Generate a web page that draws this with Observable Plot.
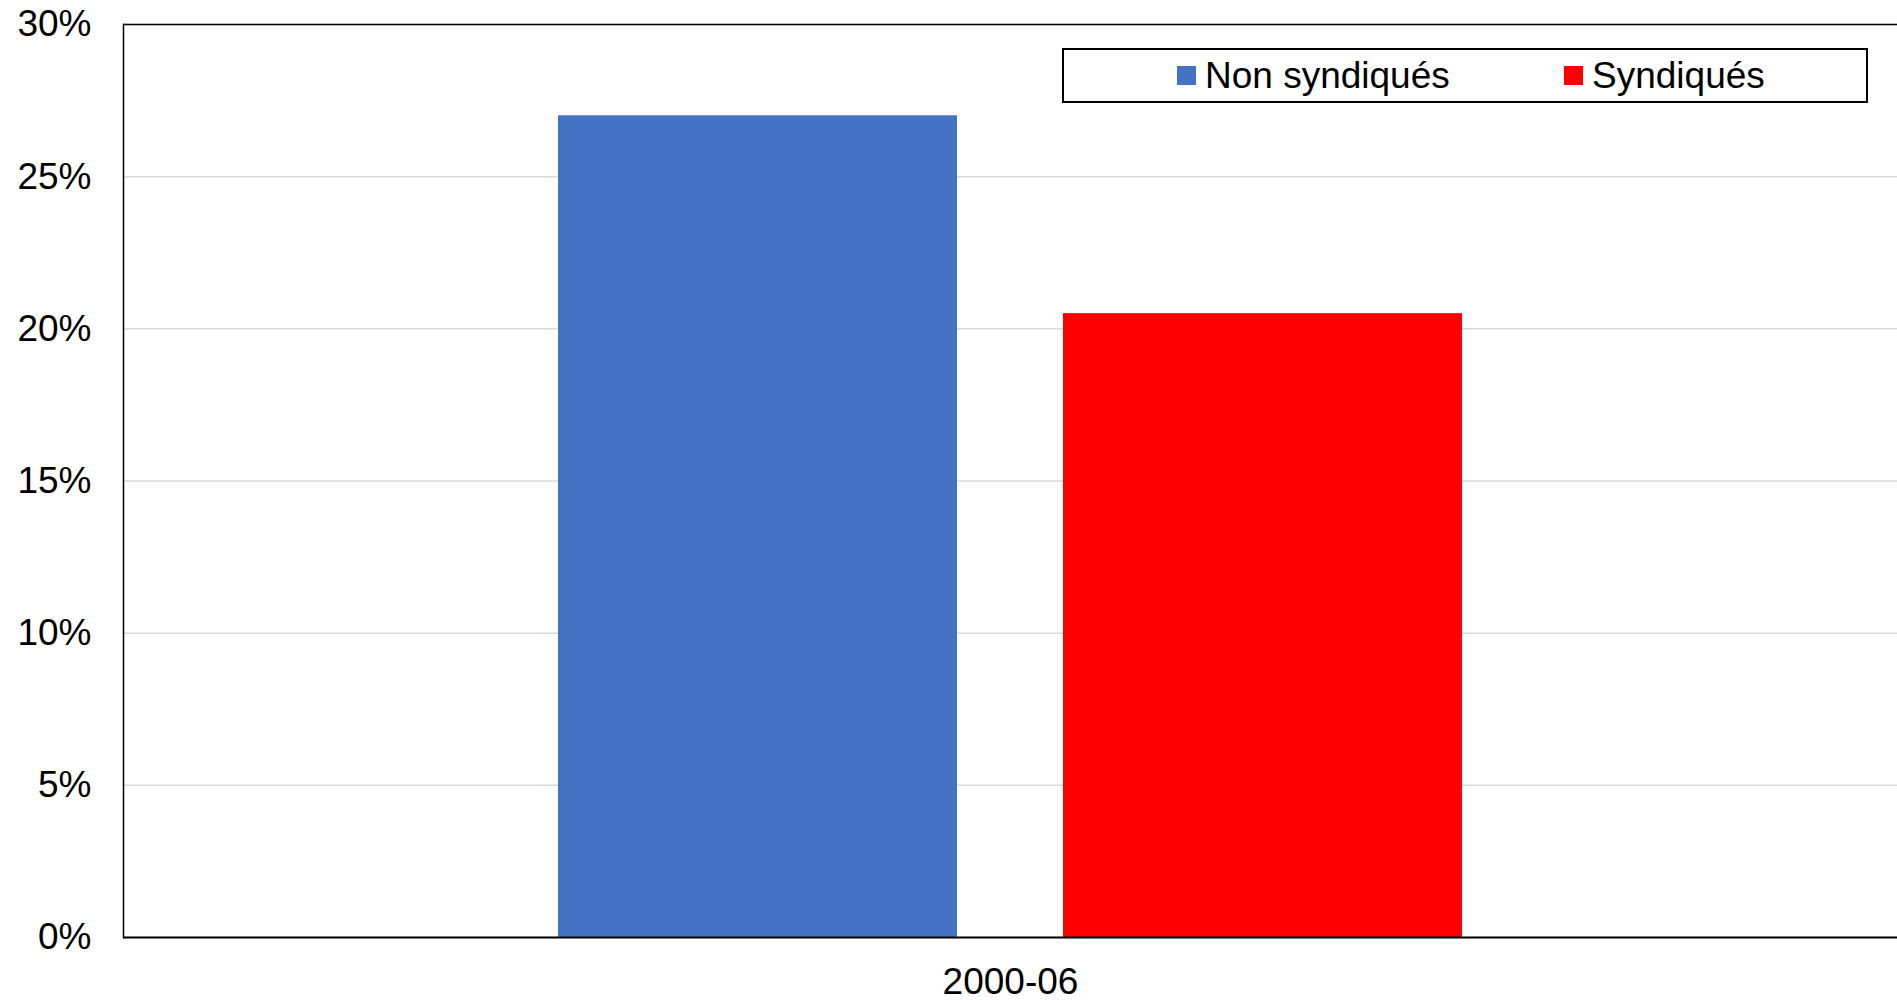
<!DOCTYPE html>
<html>
<head>
<meta charset="utf-8">
<script src="https://cdn.jsdelivr.net/npm/d3@7"></script>
<script src="https://cdn.jsdelivr.net/npm/@observablehq/plot@0.6"></script>
<style>
  html, body { margin: 0; padding: 0; background: #fff; }
  #wrap { position: relative; width: 1897px; height: 1000px; font-family: "Liberation Sans", Arial, sans-serif; }
  #legend { position: absolute; left: 1062px; top: 48px; width: 802px; height: 51px; border: 2px solid #000; background: #fff; }
  .item { position: absolute; top: 0; height: 51px; display: flex; align-items: center; font-size: 37px; color: #000; white-space: nowrap; }
  .sw { width: 19px; height: 19px; margin-right: 9px; }
</style>
</head>
<body>
<div id="wrap"></div>
<script>
const categories = ["2000-06"];
const series = ["Non syndiqués", "Syndiqués"];
const values = [27.0, 20.5];
const colors = ["#4472C4", "#FF0000"];
const yTicks = [0, 5, 10, 15, 20, 25, 30];

const data = series.map((s, i) => ({category: categories[0], series: s, value: values[i]}));

const chart = Plot.plot({
  width: 1897,
  height: 1000,
  marginLeft: 123,
  marginRight: 0,
  marginTop: 24,
  marginBottom: 63,
  style: {fontFamily: "'Liberation Sans', Arial, sans-serif", fontSize: "37px", color: "#000", background: "#fff"},
  fx: {domain: categories, padding: 0, label: null, axis: null},
  x: {domain: series, paddingInner: 0.209, paddingOuter: 0.858, axis: null},
  y: {domain: [0, 30], ticks: yTicks, label: null},
  color: {domain: series, range: colors},
  marks: [
    Plot.gridY(yTicks, {stroke: "#d9d9d9", strokeOpacity: 1, strokeWidth: 1.5}),
    Plot.barY(data, {fx: "category", x: "series", y: "value", fill: "series"}),
    Plot.axisY(yTicks, {tickSize: 0, tickPadding: 32, tickFormat: d => d + "%", label: null, fontSize: 37}),
    Plot.axisFx({anchor: "bottom", tickSize: 0, tickPadding: 30, label: null, fontSize: 37}),
    Plot.ruleY([30], {stroke: "#000", strokeWidth: 1.5}),
    Plot.ruleY([0], {stroke: "#000", strokeWidth: 2}),
    Plot.frame({anchor: "left", stroke: "#000", strokeWidth: 1.5})
  ]
});

const wrap = document.getElementById("wrap");
wrap.appendChild(chart);

const legend = document.createElement("div");
legend.id = "legend";
const offsets = [113, 500];
series.forEach((s, i) => {
  const item = document.createElement("div");
  item.className = "item";
  item.style.left = offsets[i] + "px";
  const sw = document.createElement("span");
  sw.className = "sw";
  sw.style.background = colors[i];
  const t = document.createElement("span");
  t.textContent = s;
  item.appendChild(sw);
  item.appendChild(t);
  legend.appendChild(item);
});
wrap.appendChild(legend);
</script>
</body>
</html>
